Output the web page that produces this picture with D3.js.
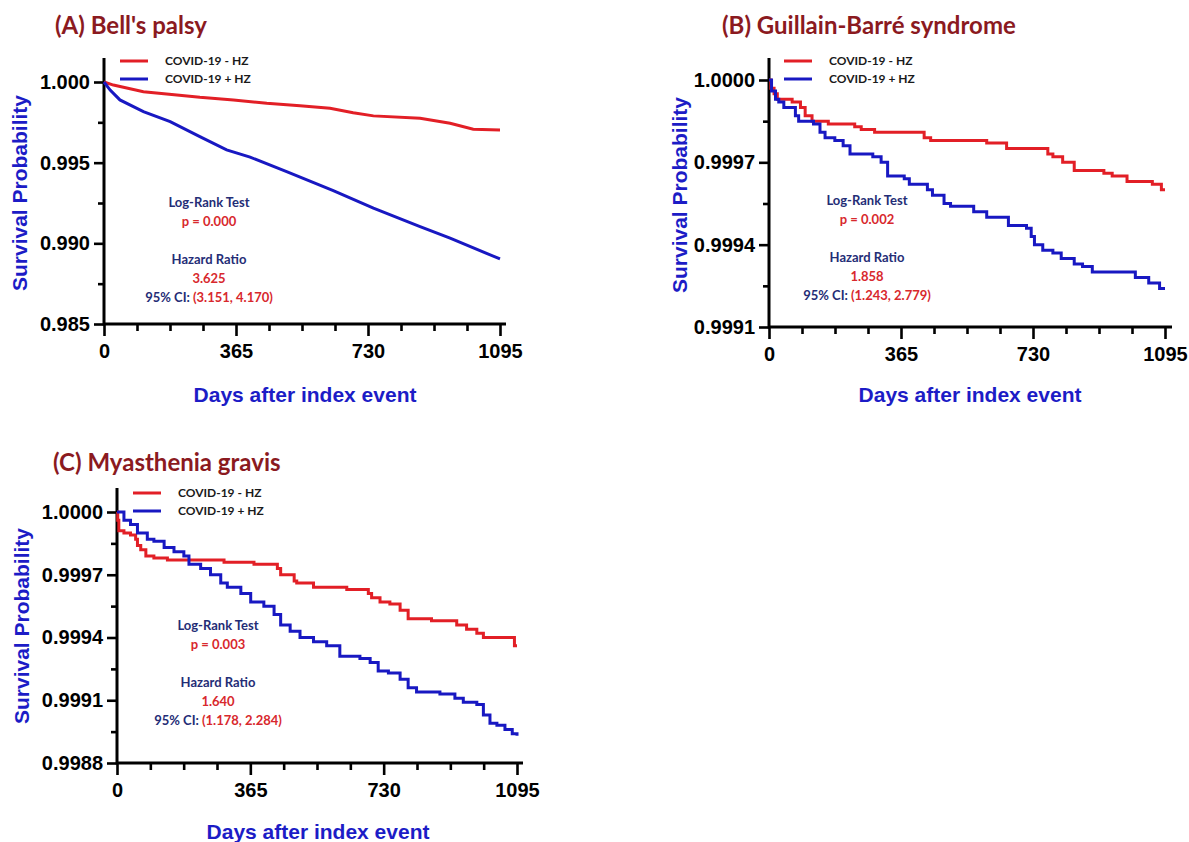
<!DOCTYPE html>
<html>
<head>
<meta charset="utf-8">
<script src="https://cdn.jsdelivr.net/npm/d3@7"></script>
<style>
  body { margin: 0; background: #fff; }
</style>
</head>
<body>
<script>
// ---- data ----
const panelTitles = ["(A) Bell's palsy", '(B) Guillain-Barré syndrome', '(C) Myasthenia gravis'];
const seriesNames = ['COVID-19 - HZ', 'COVID-19 + HZ'];
const xMajorTicks = [0, 365, 730, 1095];
const yTicksA = [0.985, 0.99, 0.995, 1.0];
const yTicksB = [0.9991, 0.9994, 0.9997, 1.0];
const yTicksC = [0.9988, 0.9991, 0.9994, 0.9997, 1.0];

const logRankP = ['0.000', '0.002', '0.003'];
const hazardRatio = ['3.625', '1.858', '1.640'];
const hazardCI = ['(3.151, 4.170)', '(1.243, 2.779)', '(1.178, 2.284)'];

// [days, survival probability]
const bellNoHZ = [[0, 1.0], [26, 0.99981], [109, 0.9994], [173, 0.99926], [265, 0.99905], [358, 0.99889],
  [450, 0.99868], [542, 0.99853], [625, 0.99837], [689, 0.9981], [745, 0.9979], [874, 0.99775],
  [957, 0.99744], [1021, 0.99707], [1095, 0.99703]];
const bellHZ = [[0, 1.0], [17, 0.9995], [44, 0.99889], [109, 0.99816], [183, 0.99754], [265, 0.99661],
  [339, 0.99579], [404, 0.99534], [505, 0.99445], [634, 0.99327], [745, 0.99218], [874, 0.99104],
  [957, 0.99032], [1095, 0.98903]];

const gbsNoHZ = [[0, 1.0], [5, 0.99997], [14, 0.99995], [23, 0.99993], [64, 0.99992], [87, 0.9999],
  [100, 0.99987], [119, 0.99985], [164, 0.99984], [237, 0.99983], [255, 0.99982], [292, 0.99981],
  [429, 0.99979], [447, 0.99978], [602, 0.99977], [657, 0.99975], [771, 0.99973], [785, 0.99972],
  [812, 0.9997], [844, 0.99967], [926, 0.99966], [949, 0.99965], [990, 0.99963], [1060, 0.99962],
  [1085, 0.9996], [1095, 0.9996]];
const gbsHZ = [[0, 1.0], [7, 0.99996], [18, 0.99993], [27, 0.99992], [41, 0.9999], [73, 0.99987],
  [82, 0.99985], [123, 0.99984], [141, 0.99981], [155, 0.99979], [182, 0.99978], [205, 0.99976],
  [224, 0.99973], [287, 0.99972], [310, 0.9997], [328, 0.99965], [374, 0.99964], [388, 0.99962],
  [438, 0.9996], [452, 0.99958], [484, 0.99955], [502, 0.99954], [566, 0.99952], [602, 0.9995],
  [662, 0.99947], [712, 0.99946], [725, 0.99943], [734, 0.9994], [757, 0.99938], [785, 0.99937],
  [808, 0.99935], [844, 0.99933], [867, 0.99932], [894, 0.9993], [1013, 0.99928], [1050, 0.99926],
  [1080, 0.99924], [1095, 0.99924]];

const mgNoHZ = [[0, 1.0], [2, 0.99996], [5, 0.99991], [19, 0.9999], [37, 0.99989], [51, 0.99987],
  [56, 0.99984], [65, 0.99982], [79, 0.99979], [101, 0.99978], [138, 0.99977], [293, 0.99976],
  [375, 0.99975], [439, 0.99973], [448, 0.9997], [485, 0.99967], [492, 0.99966], [538, 0.99964],
  [629, 0.99963], [688, 0.99961], [697, 0.99959], [720, 0.99957], [747, 0.99956], [775, 0.99953],
  [797, 0.99949], [861, 0.99948], [930, 0.99946], [957, 0.99944], [985, 0.99942], [1003, 0.9994],
  [1088, 0.99936], [1095, 0.99936]];
const mgHZ = [[0, 1.0], [19, 0.99996], [37, 0.99994], [56, 0.9999], [83, 0.99987], [101, 0.99986],
  [129, 0.99983], [156, 0.99981], [183, 0.99979], [197, 0.99975], [229, 0.99973], [256, 0.9997],
  [284, 0.99966], [302, 0.99964], [339, 0.99961], [366, 0.99957], [402, 0.99955], [430, 0.99951],
  [448, 0.99946], [474, 0.99943], [501, 0.9994], [538, 0.99938], [574, 0.99936], [610, 0.99931],
  [665, 0.9993], [693, 0.99928], [715, 0.99924], [743, 0.99923], [775, 0.9992], [797, 0.99916],
  [820, 0.99914], [884, 0.99913], [925, 0.99911], [948, 0.99909], [985, 0.99908], [1003, 0.99903],
  [1021, 0.99899], [1040, 0.99898], [1062, 0.99896], [1082, 0.99894], [1095, 0.99893]];

// ---- styles ----
const RED = '#e21f26';
const BLUE = '#1818c2';
const NAVY = '#242d76';
const STAT_RED = '#d8282d';
const TITLE_RED = '#8b1a1f';
const AXIS_BLUE = '#1c1cc6';
const ARIAL = 'Liberation Sans, Arial, sans-serif';
const CALIBRI = 'Lato, Carlito, Calibri, sans-serif';

const svg = d3.select('body').append('svg').attr('width', 1189).attr('height', 842);

const panels = [
  { x0: 104, x1: 500, yTop: 82, yBot: 324, axisTop: 58, axisRight: 506, ticks: yTicksA, fmt: '.3f',
    titleX: 55, titleY: 34, legX: 120, legY: 61, statX: 209, statY: 207, yTitleX: 27, yTitleY: 193,
    xTitleX: 305, xTitleY: 402, series: [bellNoHZ, bellHZ], curve: d3.curveLinear },
  { x0: 769, x1: 1165, yTop: 80, yBot: 327, axisTop: 58, axisRight: 1172, ticks: yTicksB, fmt: '.4f',
    titleX: 722, titleY: 34, legX: 784, legY: 61, statX: 867, statY: 205, yTitleX: 687, yTitleY: 195,
    xTitleX: 970, xTitleY: 402, series: [gbsNoHZ, gbsHZ], curve: d3.curveStepAfter },
  { x0: 117, x1: 517, yTop: 512, yBot: 763, axisTop: 488, axisRight: 523, ticks: yTicksC, fmt: '.4f',
    titleX: 53, titleY: 471, legX: 133, legY: 493, statX: 218, statY: 630, yTitleX: 29, yTitleY: 626,
    xTitleX: 318, xTitleY: 839, series: [mgNoHZ, mgHZ], curve: d3.curveStepAfter },
];

panels.forEach((p, i) => drawPanel(p, i));

function drawPanel(p, i) {
  const g = svg.append('g');
  const lo = p.ticks[0];
  const hi = p.ticks[p.ticks.length - 1];
  const x = d3.scaleLinear().domain([0, 1095]).range([p.x0, p.x1]);
  const y = d3.scaleLinear().domain([lo, hi]).range([p.yBot, p.yTop]);

  // minor ticks sit halfway between labelled ones
  const step = (hi - lo) / (p.ticks.length - 1);
  const yMinor = p.ticks.slice(0, -1).map((t) => t + step / 2);
  const xMinor = d3.range(1, 12).map((k) => k * 91.25).filter((d) => !xMajorTicks.includes(d));

  // y axis
  g.append('g').attr('transform', `translate(${p.x0},0)`)
    .call(d3.axisLeft(y).tickValues(p.ticks).tickSize(10).tickPadding(4).tickFormat(d3.format(p.fmt)));
  g.append('g').attr('transform', `translate(${p.x0},0)`)
    .call(d3.axisLeft(y).tickValues(yMinor).tickSize(6).tickFormat(''));

  // x axis
  g.append('g').attr('transform', `translate(0,${p.yBot})`)
    .call(d3.axisBottom(x).tickValues(xMajorTicks).tickSize(12).tickPadding(8).tickFormat(d3.format('d')));
  g.append('g').attr('transform', `translate(0,${p.yBot})`)
    .call(d3.axisBottom(x).tickValues(xMinor).tickSize(7).tickFormat(''));

  g.selectAll('.domain').remove();
  g.selectAll('.tick line').attr('stroke', '#000').attr('stroke-width', 2.6);
  g.selectAll('.tick text').attr('fill', '#000').style('font-family', ARIAL)
    .style('font-weight', 'bold').style('font-size', '20px');

  g.append('path')
    .attr('d', `M${p.x0},${p.axisTop}V${p.yBot}H${p.axisRight}`)
    .attr('fill', 'none').attr('stroke', '#000').attr('stroke-width', 3);

  // curves
  const line = d3.line().x((d) => x(d[0])).y((d) => y(d[1])).curve(p.curve);
  [RED, BLUE].forEach((c, k) => {
    g.append('path').datum(p.series[k]).attr('d', line)
      .attr('fill', 'none').attr('stroke', c).attr('stroke-width', 3).attr('stroke-linejoin', 'miter');
  });

  // title
  g.append('text').attr('x', p.titleX).attr('y', p.titleY).text(panelTitles[i])
    .style('font-family', CALIBRI).style('font-weight', 'bold').style('font-size', '24px')
    .attr('fill', TITLE_RED);

  // legend
  seriesNames.forEach((name, k) => {
    const ly = p.legY + k * 18;
    g.append('line').attr('x1', p.legX).attr('x2', p.legX + 28).attr('y1', ly).attr('y2', ly)
      .attr('stroke', k === 0 ? RED : BLUE).attr('stroke-width', 3);
    g.append('text').attr('x', p.legX + 45).attr('y', ly + 4).text(name)
      .style('font-family', CALIBRI).style('font-weight', 'bold').style('font-size', '12px')
      .attr('fill', '#1a1a1a');
  });

  // stats annotation
  const stat = (dy, parts) => {
    const t = g.append('text').attr('x', p.statX).attr('y', p.statY + dy).attr('text-anchor', 'middle')
      .style('font-family', CALIBRI).style('font-weight', 'bold').style('font-size', '13px');
    parts.forEach(([s, c]) => t.append('tspan').text(s).attr('fill', c));
  };
  stat(0, [['Log-Rank Test', NAVY]]);
  stat(19, [['p = ' + logRankP[i], STAT_RED]]);
  stat(57, [['Hazard Ratio', NAVY]]);
  stat(76, [[hazardRatio[i], STAT_RED]]);
  stat(95, [['95% CI: ', NAVY], [hazardCI[i], STAT_RED]]);

  // axis titles
  g.append('text').attr('transform', `translate(${p.yTitleX},${p.yTitleY}) rotate(-90)`)
    .attr('text-anchor', 'middle').text('Survival Probability')
    .style('font-family', ARIAL).style('font-weight', 'bold').style('font-size', '21px')
    .attr('fill', AXIS_BLUE);
  g.append('text').attr('x', p.xTitleX).attr('y', p.xTitleY).attr('text-anchor', 'middle')
    .text('Days after index event')
    .style('font-family', ARIAL).style('font-weight', 'bold').style('font-size', '21px')
    .attr('fill', AXIS_BLUE);
}
</script>
</body>
</html>
